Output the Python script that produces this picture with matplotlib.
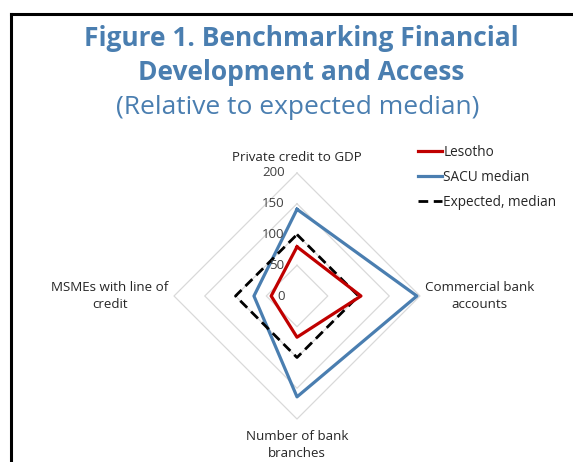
import numpy as np
import matplotlib.pyplot as plt
from matplotlib.lines import Line2D

plt.rcParams['font.family'] = ['Open Sans', 'DejaVu Sans']

# axes of the radar, clockwise from the top
categories = ["Private credit to GDP", "Commercial bank\naccounts",
              "Number of bank\nbranches", "MSMEs with line of\ncredit"]
lesotho = [80, 104, 67, 42]
sacu_median = [141, 195, 164, 70]
expected_median = [100, 100, 100, 100]
grid_levels = [50, 100, 150, 200]
tick_labels = ["0", "50", "100", "150", "200"]

blue = '#4A7EB0'
angles = np.pi / 2 - np.arange(len(categories)) * np.pi / 2


def to_xy(vals):
    vals = np.append(vals, vals[0])
    ang = np.append(angles, angles[0])
    return vals * np.cos(ang), vals * np.sin(ang)


fig = plt.figure(figsize=(5.73, 4.62), dpi=100)
ax = fig.add_axes([147 / 573, 16 / 462, 300 / 573, 300 / 462])
lim = 150 / 123 * 200
ax.set_xlim(-lim, lim)
ax.set_ylim(-lim, lim)
ax.axis('off')

# diamond grid
for g in grid_levels:
    gx, gy = to_xy([g] * 4)
    ax.plot(gx, gy, color='#D9D9D9', lw=0.9, zorder=1)

x, y = to_xy(lesotho)
ax.plot(x, y, color='#C00000', lw=2.3, label='Lesotho', zorder=3)
x, y = to_xy(sacu_median)
ax.plot(x, y, color=blue, lw=2.3, label='SACU median', zorder=2)
x, y = to_xy(expected_median)
ax.plot(x, y, color='black', lw=2.0, ls=(0, (3.5, 2)), label='Expected, median', zorder=2)

# radial tick labels
for i, t in enumerate(tick_labels):
    ax.text(-20, i * 50, t, ha='right', va='center', fontsize=9.5, color='#404040')

# category labels
label_r = [226, 297, 242, 304]
for cat, a, r in zip(categories, angles, label_r):
    ax.text(r * np.cos(a), r * np.sin(a), cat, ha='center', va='center',
            fontsize=9.6, color='#262626', linespacing=1.4)

fig.legend(loc='upper left', bbox_to_anchor=(406 / 573, 1 - 133 / 462),
           frameon=False, fontsize=9.8, handlelength=1.75, handletextpad=0.1,
           labelspacing=0.72, labelcolor='#262626')

# titles
fig.text(0.525, 1 - 38 / 462, "Figure 1. Benchmarking Financial", ha='center', va='center',
         fontsize=19, fontweight='bold', color=blue)
fig.text(0.525, 1 - 73 / 462, "Development and Access", ha='center', va='center',
         fontsize=19, fontweight='bold', color=blue)
fig.text(0.52, 1 - 108 / 462, "(Relative to expected median)", ha='center', va='center',
         fontsize=19, color=blue)

# frame of the box (only top and left visible)
fig.add_artist(Line2D([11 / 573, 11 / 573], [0, 1 - 14 / 462], color='black', lw=2.2))
fig.add_artist(Line2D([11 / 573, 1], [1 - 14 / 462, 1 - 14 / 462], color='black', lw=2.2))

fig.savefig('out.png', dpi=100)
